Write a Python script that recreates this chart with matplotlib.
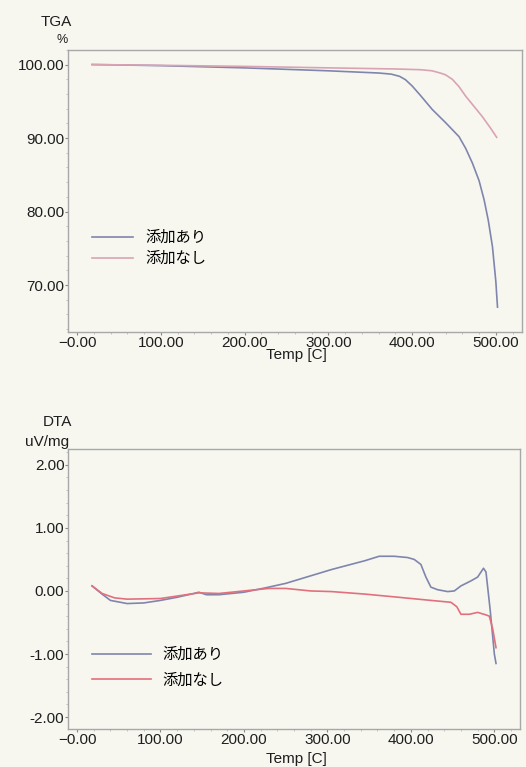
import numpy as np
import matplotlib.pyplot as plt
from matplotlib.ticker import FixedLocator, FixedFormatter, AutoMinorLocator

plt.rcParams['font.family'] = ['Liberation Sans', 'Noto Sans CJK JP', 'DejaVu Sans']

# TGA data (temperature in C, weight %)
tga_temp_a = [18, 50, 100, 150, 200, 250, 300, 340, 360, 375, 385, 392, 400, 410, 424,
              440, 456, 464, 472, 480, 486, 491, 496, 500, 502]
tga_with = [100.0, 99.95, 99.85, 99.7, 99.55, 99.35, 99.15, 98.95, 98.85, 98.7, 98.4, 97.95,
            97.1, 95.8, 93.9, 92.1, 90.2, 88.6, 86.6, 84.2, 81.6, 78.8, 75.2, 70.5, 67.0]
tga_temp_b = [18, 100, 200, 300, 380, 410, 424, 435, 440, 448, 456, 464, 474, 484, 494, 501]
tga_without = [100.0, 99.9, 99.75, 99.55, 99.4, 99.3, 99.15, 98.8, 98.6, 98.0, 97.0, 95.7,
               94.3, 92.9, 91.3, 90.1]

# DTA data (temperature in C, uV/mg)
dta_temp_a = [18, 30, 40, 60, 80, 100, 120, 140, 146, 155, 170, 200, 226, 250, 265, 285,
              305, 325, 345, 362, 380, 396, 404, 412, 418, 424, 432, 444, 452, 460, 472,
              480, 487, 490, 495, 500, 502]
dta_with = [0.08, -0.05, -0.15, -0.2, -0.19, -0.15, -0.1, -0.04, -0.02, -0.06, -0.06, -0.02,
            0.05, 0.12, 0.18, 0.26, 0.34, 0.41, 0.48, 0.55, 0.55, 0.53, 0.5, 0.42, 0.22, 0.06,
            0.02, -0.01, 0.0, 0.08, 0.16, 0.22, 0.36, 0.3, -0.3, -1.0, -1.15]
dta_temp_b = [18, 30, 45, 60, 100, 146, 170, 200, 230, 250, 280, 305, 345, 385, 424, 448,
              455, 460, 470, 480, 490, 494, 498, 502]
dta_without = [0.08, -0.04, -0.11, -0.13, -0.12, -0.03, -0.04, 0.0, 0.04, 0.04, 0.0, -0.01,
               -0.05, -0.1, -0.15, -0.18, -0.25, -0.37, -0.37, -0.34, -0.38, -0.4, -0.6, -0.9]

labels = ['添加あり', '添加なし']
x_ticks = [0, 100, 200, 300, 400, 500]
x_ticklabels = ['\u22120.00', '100.00', '200.00', '300.00', '400.00', '500.00']
tga_ticks = [70, 80, 90, 100]
dta_ticks = [-2, -1, 0, 1, 2]

bg = '#f7f7f0'
blue = '#7f86ad'
pink_tga = '#d9a3b4'
red_dta = '#e2707c'
tc = '#1e1e1e'

fig = plt.figure(figsize=(5.26, 7.67), dpi=100, facecolor=bg)
ax1 = fig.add_axes([0.129, 0.567, 0.863, 0.368], facecolor=bg)
ax2 = fig.add_axes([0.129, 0.0495, 0.86, 0.365], facecolor=bg)


def style(ax):
    for s in ax.spines.values():
        s.set_color('#a8a8a8')
        s.set_linewidth(1.0)
    ax.xaxis.set_major_locator(FixedLocator(x_ticks))
    ax.xaxis.set_major_formatter(FixedFormatter(x_ticklabels))
    ax.xaxis.set_minor_locator(AutoMinorLocator(5))
    ax.yaxis.set_minor_locator(AutoMinorLocator(5))
    ax.tick_params(which='major', length=2, width=0.8, color='#888888',
                   labelsize=11, labelcolor=tc, pad=0.5)
    ax.tick_params(which='minor', length=1.5, width=0.6, color='#bbbbbb')
    ax.set_xlim(-11, 531)


# TGA
ax1.plot(tga_temp_a, tga_with, color=blue, lw=1.2, label=labels[0])
ax1.plot(tga_temp_b, tga_without, color=pink_tga, lw=1.2, label=labels[1])
style(ax1)
ax1.set_ylim(63.6, 102.0)
ax1.yaxis.set_major_locator(FixedLocator(tga_ticks))
ax1.yaxis.set_major_formatter(FixedFormatter(['%.2f' % v for v in tga_ticks]))
ax1.legend(loc='center left', bbox_to_anchor=(0.053, 0.298), frameon=False,
           borderpad=0, borderaxespad=0, handlelength=2.7, handletextpad=0.8,
           labelspacing=0.25, prop={'size': 11, 'family': ['Noto Sans CJK JP']})

# DTA
ax2.plot(dta_temp_a, dta_with, color=blue, lw=1.2, label=labels[0])
ax2.plot(dta_temp_b, dta_without, color=red_dta, lw=1.2, label=labels[1])
style(ax2)
ax2.set_ylim(-2.19, 2.25)
ax2.yaxis.set_major_locator(FixedLocator(dta_ticks))
ax2.yaxis.set_major_formatter(FixedFormatter(['%.2f' % v for v in dta_ticks]))
ax2.legend(loc='center left', bbox_to_anchor=(0.053, 0.22), frameon=False,
           borderpad=0, borderaxespad=0, handlelength=3.9, handletextpad=0.75,
           labelspacing=0.55, prop={'size': 11, 'family': ['Noto Sans CJK JP']})

# axis titles
fig.text(72 / 526, 1 - 22 / 767, 'TGA', ha='right', va='center', fontsize=11, color=tc)
fig.text(68 / 526, 1 - 40 / 767, '%', ha='right', va='center', fontsize=9, color=tc)
fig.text(72 / 526, 1 - 422 / 767, 'DTA', ha='right', va='center', fontsize=11, color=tc)
fig.text(69 / 526, 1 - 442 / 767, 'uV/mg', ha='right', va='center', fontsize=11, color=tc)
fig.text(296 / 526, 1 - 355 / 767, 'Temp [C]', ha='center', va='center', fontsize=11, color=tc)
fig.text(296 / 526, 1 - 759 / 767, 'Temp [C]', ha='center', va='center', fontsize=11, color=tc)

fig.savefig('out.png', dpi=100, facecolor=bg)
